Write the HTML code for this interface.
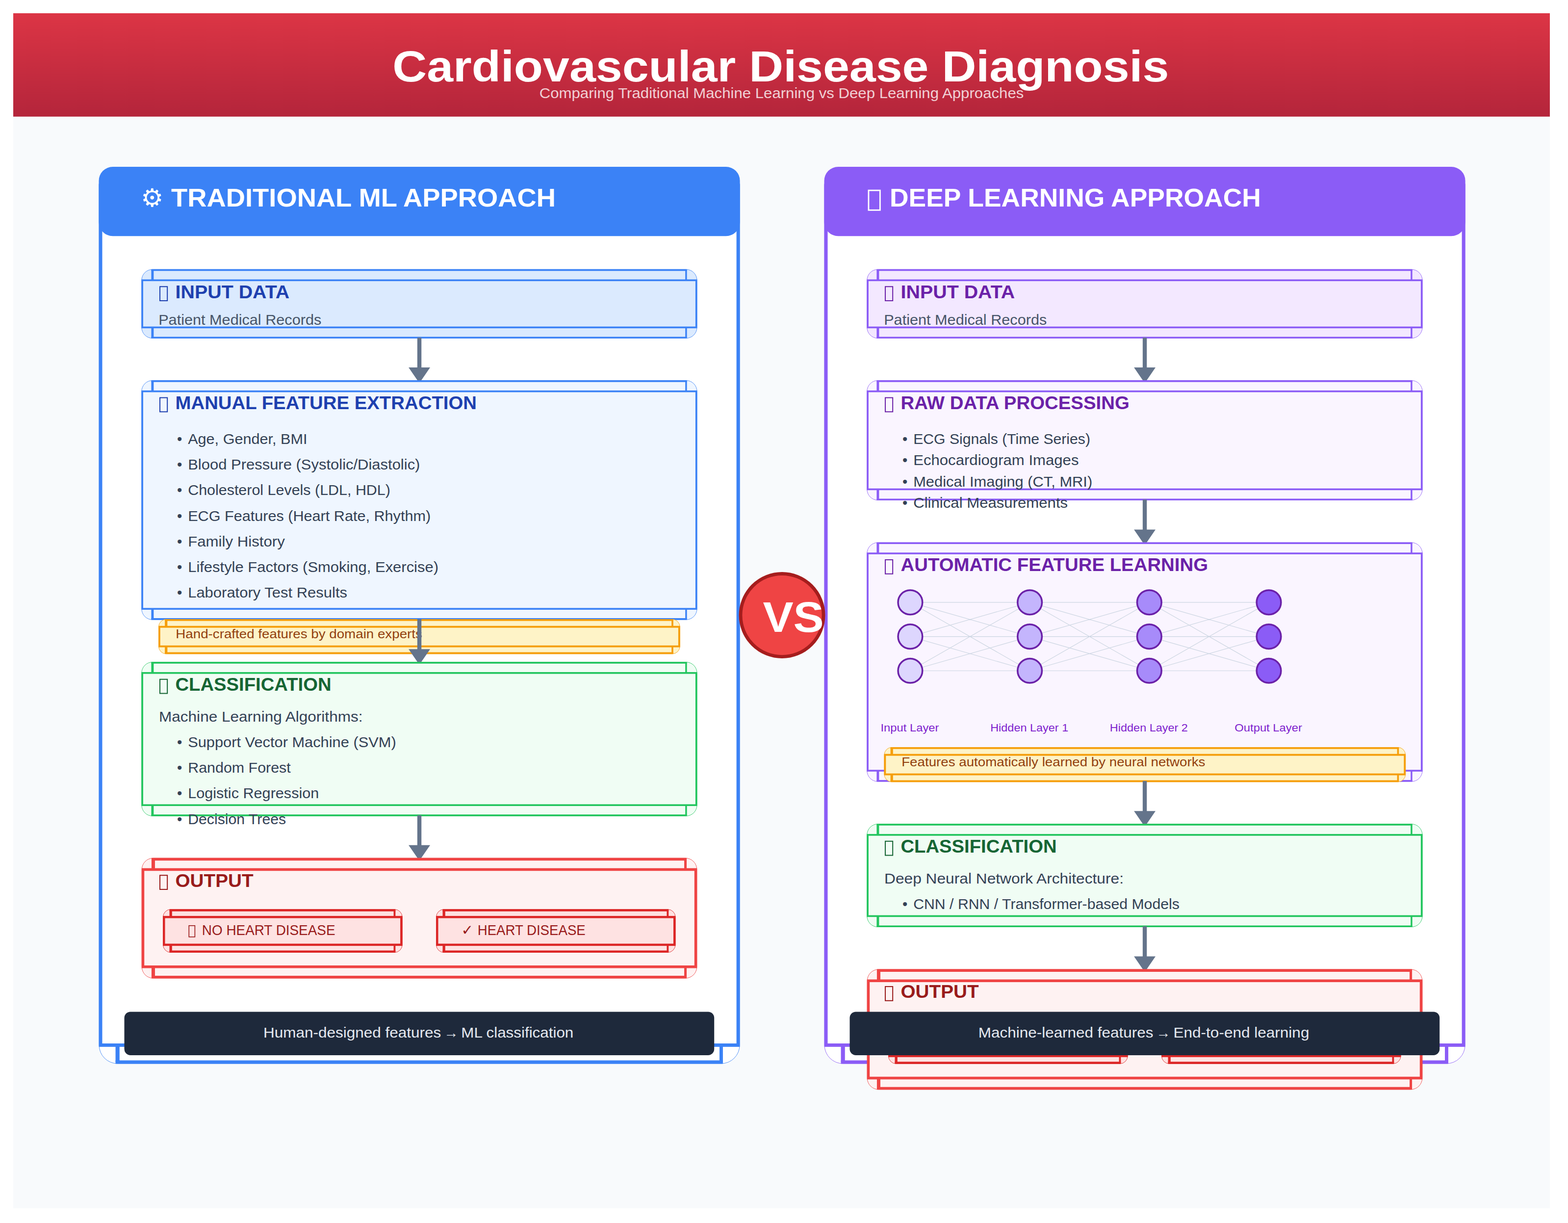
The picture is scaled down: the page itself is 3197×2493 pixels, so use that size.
<!DOCTYPE html>
<html><head><meta charset="utf-8"><title>Cardiovascular Disease Diagnosis</title>
<style>html,body{margin:0;padding:0;background:#fff;}body{width:3197px;height:2493px;overflow:hidden;font-family:"Liberation Sans", sans-serif;}svg text{white-space:pre;}</style></head>
<body>
<svg width="3197" height="2493" viewBox="0 0 3197 2493" font-family='"Liberation Sans", sans-serif' style="display:block">
<defs><linearGradient id="hg" x1="0" y1="0" x2="0" y2="1"><stop offset="0" stop-color="#dc3545"/><stop offset="1" stop-color="#b4253b"/></linearGradient></defs>
<rect x="0" y="0" width="3197" height="2493" fill="#ffffff" />
<rect x="27" y="27" width="3133" height="2436" fill="#f8fafc" />
<rect x="27" y="27" width="3133" height="210.7" fill="url(#hg)" />
<text x="800.22" y="166" font-size="88.04" fill="#ffffff" font-weight="bold" textLength="1583.16" lengthAdjust="spacingAndGlyphs">Cardiovascular Disease Diagnosis</text>
<text x="1099.68" y="200" font-size="29.41" fill="#ffffff" fill-opacity="0.8" textLength="987.65" lengthAdjust="spacingAndGlyphs">Comparing Traditional Machine Learning vs Deep Learning Approaches</text>
<path d="M239.65 340.5H1470.45A37.55 37.55 0 0 1 1508 378.05V2130.45A37.55 37.55 0 0 1 1470.45 2168H239.65A37.55 37.55 0 0 1 202.1 2130.45V378.05A37.55 37.55 0 0 1 239.65 340.5Z" fill="#ffffff" stroke="#3b82f6" stroke-width="1" stroke-opacity="0.85"/>
<path d="M239.65 343.45V378.05M239.65 2130.45V2165.05" stroke="#3b82f6" stroke-width="8.2" fill="none"/>
<path d="M1470.45 343.45V378.05M1470.45 2130.45V2165.05" stroke="#3b82f6" stroke-width="6.9" fill="none"/>
<path d="M235.55 343.45H1473.9M235.55 2165.05H1473.9" stroke="#3b82f6" stroke-width="6.9" fill="none"/>
<rect x="205.05" y="378.05" width="1300" height="1752.4" fill="none" stroke="#3b82f6" stroke-width="6.9"/>
<rect x="201.5" y="340" width="1307.1" height="141.25" rx="28.5" ry="28.5" fill="#3b82f6"/>
<text x="310.34" y="420.75" font-size="51.4" fill="#ffffff" font-weight="bold" text-anchor="middle" font-family='"Liberation Sans", "DejaVu Sans", sans-serif'>⚙</text>
<text x="349.14" y="420.75" font-size="51.4" fill="#ffffff" font-weight="bold" textLength="783.75" lengthAdjust="spacingAndGlyphs">TRADITIONAL ML APPROACH</text>
<path d="M310.9 549.2H1398.9A22.1 22.1 0 0 1 1421 571.3V667.4A22.1 22.1 0 0 1 1398.9 689.5H310.9A22.1 22.1 0 0 1 288.8 667.4V571.3A22.1 22.1 0 0 1 310.9 549.2Z" fill="#dbeafe" stroke="#3b82f6" stroke-width="1" stroke-opacity="0.85"/>
<path d="M310.9 550.5V571.3M310.9 667.4V688.2" stroke="#3b82f6" stroke-width="4.93" fill="none"/>
<path d="M1398.9 550.5V571.3M1398.9 667.4V688.2" stroke="#3b82f6" stroke-width="3.42" fill="none"/>
<path d="M308.43 550.5H1400.61M308.43 688.2H1400.61" stroke="#3b82f6" stroke-width="3.6" fill="none"/>
<rect x="290.1" y="571.3" width="1129.6" height="96.1" fill="none" stroke="#3b82f6" stroke-width="3.6"/>
<rect x="326.02" y="584.25" width="15.14" height="28.74" fill="none" stroke="#1e40af" stroke-width="2.02"/>
<text x="357.49" y="607.6" font-size="36.71" fill="#1e40af" font-weight="bold" textLength="232.78" lengthAdjust="spacingAndGlyphs">INPUT DATA</text>
<text x="323.2" y="661.8" font-size="29.38" fill="#475569" textLength="332.11" lengthAdjust="spacingAndGlyphs">Patient Medical Records</text>
<path d="M850.85 688.3H859.25V749.1H877L855.05 781L833.1 749.1H850.85Z" fill="#64748b"/>
<path d="M310.9 775.6H1398.9A22.1 22.1 0 0 1 1421 797.7V1241.1A22.1 22.1 0 0 1 1398.9 1263.2H310.9A22.1 22.1 0 0 1 288.8 1241.1V797.7A22.1 22.1 0 0 1 310.9 775.6Z" fill="#eff6ff" stroke="#3b82f6" stroke-width="1" stroke-opacity="0.85"/>
<path d="M310.9 776.9V797.7M310.9 1241.1V1261.9" stroke="#3b82f6" stroke-width="4.93" fill="none"/>
<path d="M1398.9 776.9V797.7M1398.9 1241.1V1261.9" stroke="#3b82f6" stroke-width="3.42" fill="none"/>
<path d="M308.43 776.9H1400.61M308.43 1261.9H1400.61" stroke="#3b82f6" stroke-width="3.6" fill="none"/>
<rect x="290.1" y="797.7" width="1129.6" height="443.4" fill="none" stroke="#3b82f6" stroke-width="3.6"/>
<rect x="326.02" y="810.65" width="15.14" height="28.74" fill="none" stroke="#1e40af" stroke-width="2.02"/>
<text x="357.49" y="834" font-size="36.71" fill="#1e40af" font-weight="bold" textLength="614.56" lengthAdjust="spacingAndGlyphs">MANUAL FEATURE EXTRACTION</text>
<text x="366.11" y="905" font-size="29.38" fill="#334155" text-anchor="middle">•</text>
<text x="383.18" y="905" font-size="29.38" fill="#334155" textLength="243.25" lengthAdjust="spacingAndGlyphs">Age, Gender, BMI</text>
<text x="366.11" y="957.17" font-size="29.38" fill="#334155" text-anchor="middle">•</text>
<text x="383.18" y="957.17" font-size="29.38" fill="#334155" textLength="473.26" lengthAdjust="spacingAndGlyphs">Blood Pressure (Systolic/Diastolic)</text>
<text x="366.11" y="1009.34" font-size="29.38" fill="#334155" text-anchor="middle">•</text>
<text x="383.18" y="1009.34" font-size="29.38" fill="#334155" textLength="412.73" lengthAdjust="spacingAndGlyphs">Cholesterol Levels (LDL, HDL)</text>
<text x="366.11" y="1061.51" font-size="29.38" fill="#334155" text-anchor="middle">•</text>
<text x="383.18" y="1061.51" font-size="29.38" fill="#334155" textLength="494.93" lengthAdjust="spacingAndGlyphs">ECG Features (Heart Rate, Rhythm)</text>
<text x="366.11" y="1113.68" font-size="29.38" fill="#334155" text-anchor="middle">•</text>
<text x="383.18" y="1113.68" font-size="29.38" fill="#334155" textLength="197.55" lengthAdjust="spacingAndGlyphs">Family History</text>
<text x="366.11" y="1165.85" font-size="29.38" fill="#334155" text-anchor="middle">•</text>
<text x="383.18" y="1165.85" font-size="29.38" fill="#334155" textLength="510.81" lengthAdjust="spacingAndGlyphs">Lifestyle Factors (Smoking, Exercise)</text>
<text x="366.11" y="1218.02" font-size="29.38" fill="#334155" text-anchor="middle">•</text>
<text x="383.18" y="1218.02" font-size="29.38" fill="#334155" textLength="324.82" lengthAdjust="spacingAndGlyphs">Laboratory Test Results</text>
<path d="M338.7 1262.5H1371A15.2 15.2 0 0 1 1386.2 1277.7V1317.6A15.2 15.2 0 0 1 1371 1332.8H338.7A15.2 15.2 0 0 1 323.5 1317.6V1277.7A15.2 15.2 0 0 1 338.7 1262.5Z" fill="#fef3c7" stroke="#f59e0b" stroke-width="1" stroke-opacity="0.85"/>
<path d="M338.7 1263.9V1277.7M338.7 1317.6V1331.4" stroke="#f59e0b" stroke-width="5.21" fill="none"/>
<path d="M1371 1263.9V1277.7M1371 1317.6V1331.4" stroke="#f59e0b" stroke-width="3.61" fill="none"/>
<path d="M336.1 1263.9H1372.81M336.1 1331.4H1372.81" stroke="#f59e0b" stroke-width="3.8" fill="none"/>
<rect x="324.9" y="1277.7" width="1059.9" height="39.9" fill="none" stroke="#f59e0b" stroke-width="3.8"/>
<text x="358.3" y="1301.4" font-size="25.64" fill="#92400e" textLength="502.59" lengthAdjust="spacingAndGlyphs">Hand-crafted features by domain experts</text>
<path d="M850.85 1262H859.25V1323.2H877L855.05 1355.1L833.1 1323.2H850.85Z" fill="#64748b"/>
<path d="M310.9 1349.7H1398.9A22.1 22.1 0 0 1 1421 1371.8V1641.2A22.1 22.1 0 0 1 1398.9 1663.3H310.9A22.1 22.1 0 0 1 288.8 1641.2V1371.8A22.1 22.1 0 0 1 310.9 1349.7Z" fill="#f0fdf4" stroke="#22c55e" stroke-width="1" stroke-opacity="0.85"/>
<path d="M310.9 1351V1371.8M310.9 1641.2V1662" stroke="#22c55e" stroke-width="4.93" fill="none"/>
<path d="M1398.9 1351V1371.8M1398.9 1641.2V1662" stroke="#22c55e" stroke-width="3.42" fill="none"/>
<path d="M308.43 1351H1400.61M308.43 1662H1400.61" stroke="#22c55e" stroke-width="3.6" fill="none"/>
<rect x="290.1" y="1371.8" width="1129.6" height="269.4" fill="none" stroke="#22c55e" stroke-width="3.6"/>
<rect x="326.02" y="1384.75" width="15.14" height="28.74" fill="none" stroke="#166534" stroke-width="2.02"/>
<text x="357.49" y="1408.1" font-size="36.71" fill="#166534" font-weight="bold" textLength="318.04" lengthAdjust="spacingAndGlyphs">CLASSIFICATION</text>
<text x="324" y="1470.5" font-size="29.38" fill="#334155" textLength="415.48" lengthAdjust="spacingAndGlyphs">Machine Learning Algorithms:</text>
<text x="366.11" y="1523" font-size="29.38" fill="#334155" text-anchor="middle">•</text>
<text x="383.18" y="1523" font-size="29.38" fill="#334155" textLength="424.47" lengthAdjust="spacingAndGlyphs">Support Vector Machine (SVM)</text>
<text x="366.11" y="1575.2" font-size="29.38" fill="#334155" text-anchor="middle">•</text>
<text x="383.18" y="1575.2" font-size="29.38" fill="#334155" textLength="209.62" lengthAdjust="spacingAndGlyphs">Random Forest</text>
<text x="366.11" y="1627.4" font-size="29.38" fill="#334155" text-anchor="middle">•</text>
<text x="383.18" y="1627.4" font-size="29.38" fill="#334155" textLength="267.15" lengthAdjust="spacingAndGlyphs">Logistic Regression</text>
<text x="366.11" y="1679.6" font-size="29.38" fill="#334155" text-anchor="middle">•</text>
<text x="383.18" y="1679.6" font-size="29.38" fill="#334155" textLength="199.96" lengthAdjust="spacingAndGlyphs">Decision Trees</text>
<path d="M850.85 1662.1H859.25V1722.7H877L855.05 1754.6L833.1 1722.7H850.85Z" fill="#64748b"/>
<path d="M312.45 1749.2H1397.55A23.25 23.25 0 0 1 1420.8 1772.45V1970.75A23.25 23.25 0 0 1 1397.55 1994H312.45A23.25 23.25 0 0 1 289.2 1970.75V1772.45A23.25 23.25 0 0 1 312.45 1749.2Z" fill="#fef2f2" stroke="#ef4444" stroke-width="1" stroke-opacity="0.85"/>
<path d="M312.45 1751.45V1772.45M312.45 1970.75V1991.75" stroke="#ef4444" stroke-width="7" fill="none"/>
<path d="M1397.55 1751.45V1772.45M1397.55 1970.75V1991.75" stroke="#ef4444" stroke-width="5" fill="none"/>
<path d="M308.95 1751.45H1400.05M308.95 1991.75H1400.05" stroke="#ef4444" stroke-width="5.5" fill="none"/>
<rect x="291.45" y="1772.45" width="1127.1" height="198.3" fill="none" stroke="#ef4444" stroke-width="5.5"/>
<rect x="326.02" y="1784.25" width="15.14" height="28.74" fill="none" stroke="#991b1b" stroke-width="2.02"/>
<text x="357.49" y="1807.6" font-size="36.71" fill="#991b1b" font-weight="bold" textLength="159.08" lengthAdjust="spacingAndGlyphs">OUTPUT</text>
<path d="M348.15 1853.7H804.45A15.65 15.65 0 0 1 820.1 1869.35V1925.85A15.65 15.65 0 0 1 804.45 1941.5H348.15A15.65 15.65 0 0 1 332.5 1925.85V1869.35A15.65 15.65 0 0 1 348.15 1853.7Z" fill="#fee2e2" stroke="#dc2626" stroke-width="1" stroke-opacity="0.85"/>
<path d="M348.15 1855.45V1869.35M348.15 1925.85V1939.75" stroke="#dc2626" stroke-width="5.3" fill="none"/>
<path d="M804.45 1855.45V1869.35M804.45 1925.85V1939.75" stroke="#dc2626" stroke-width="3.8" fill="none"/>
<path d="M345.5 1855.45H806.35M345.5 1939.75H806.35" stroke="#dc2626" stroke-width="4.5" fill="none"/>
<rect x="334.25" y="1869.35" width="484.1" height="56.5" fill="none" stroke="#dc2626" stroke-width="4.5"/>
<path d="M905.15 1853.7H1361.35A15.65 15.65 0 0 1 1377 1869.35V1925.85A15.65 15.65 0 0 1 1361.35 1941.5H905.15A15.65 15.65 0 0 1 889.5 1925.85V1869.35A15.65 15.65 0 0 1 905.15 1853.7Z" fill="#fee2e2" stroke="#dc2626" stroke-width="1" stroke-opacity="0.85"/>
<path d="M905.15 1855.45V1869.35M905.15 1925.85V1939.75" stroke="#dc2626" stroke-width="5.3" fill="none"/>
<path d="M1361.35 1855.45V1869.35M1361.35 1925.85V1939.75" stroke="#dc2626" stroke-width="3.8" fill="none"/>
<path d="M902.5 1855.45H1363.25M902.5 1939.75H1363.25" stroke="#dc2626" stroke-width="4.5" fill="none"/>
<rect x="891.25" y="1869.35" width="484" height="56.5" fill="none" stroke="#dc2626" stroke-width="4.5"/>
<rect x="385.26" y="1886.81" width="12.11" height="23" fill="none" stroke="#991b1b" stroke-width="1.62"/>
<text x="411.87" y="1905.5" font-size="29.38" fill="#991b1b" textLength="271.65" lengthAdjust="spacingAndGlyphs">NO HEART DISEASE</text>
<text x="952.88" y="1905.5" font-size="29.38" fill="#991b1b" text-anchor="middle" font-family='"Liberation Sans", "DejaVu Sans", sans-serif'>✓</text>
<text x="973.69" y="1905.5" font-size="29.38" fill="#991b1b" textLength="220.04" lengthAdjust="spacingAndGlyphs">HEART DISEASE</text>
<rect x="253.5" y="2062.4" width="1202.7" height="88.5" rx="12.4" ry="12.4" fill="#1e293b"/>
<text x="536.99" y="2114.8" font-size="29.43" fill="#e5e9f0" textLength="362.25" lengthAdjust="spacingAndGlyphs">Human-designed features</text>
<text x="919.92" y="2114.8" font-size="29.43" fill="#e5e9f0" text-anchor="middle" font-family='"Liberation Sans", "DejaVu Sans", sans-serif'>→</text>
<text x="940.36" y="2114.8" font-size="29.43" fill="#e5e9f0" textLength="228.95" lengthAdjust="spacingAndGlyphs">ML classification</text>
<path d="M1718.65 340.5H2949.45A37.55 37.55 0 0 1 2987 378.05V2130.45A37.55 37.55 0 0 1 2949.45 2168H1718.65A37.55 37.55 0 0 1 1681.1 2130.45V378.05A37.55 37.55 0 0 1 1718.65 340.5Z" fill="#ffffff" stroke="#8b5cf6" stroke-width="1" stroke-opacity="0.85"/>
<path d="M1718.65 343.45V378.05M1718.65 2130.45V2165.05" stroke="#8b5cf6" stroke-width="8.2" fill="none"/>
<path d="M2949.45 343.45V378.05M2949.45 2130.45V2165.05" stroke="#8b5cf6" stroke-width="6.9" fill="none"/>
<path d="M1714.55 343.45H2952.9M1714.55 2165.05H2952.9" stroke="#8b5cf6" stroke-width="6.9" fill="none"/>
<rect x="1684.05" y="378.05" width="1300" height="1752.4" fill="none" stroke="#8b5cf6" stroke-width="6.9"/>
<rect x="1680.5" y="340" width="1307.1" height="141.25" rx="28.5" ry="28.5" fill="#8b5cf6"/>
<rect x="1770.95" y="388.06" width="23.39" height="40.24" fill="none" stroke="#ffffff" stroke-width="2.83"/>
<text x="1813.99" y="420.75" font-size="51.4" fill="#ffffff" font-weight="bold" textLength="756.82" lengthAdjust="spacingAndGlyphs">DEEP LEARNING APPROACH</text>
<path d="M1789.9 549.2H2877.9A22.1 22.1 0 0 1 2900 571.3V667.4A22.1 22.1 0 0 1 2877.9 689.5H1789.9A22.1 22.1 0 0 1 1767.8 667.4V571.3A22.1 22.1 0 0 1 1789.9 549.2Z" fill="#f3e8ff" stroke="#8b5cf6" stroke-width="1" stroke-opacity="0.85"/>
<path d="M1789.9 550.5V571.3M1789.9 667.4V688.2" stroke="#8b5cf6" stroke-width="4.93" fill="none"/>
<path d="M2877.9 550.5V571.3M2877.9 667.4V688.2" stroke="#8b5cf6" stroke-width="3.42" fill="none"/>
<path d="M1787.43 550.5H2879.61M1787.43 688.2H2879.61" stroke="#8b5cf6" stroke-width="3.6" fill="none"/>
<rect x="1769.1" y="571.3" width="1129.6" height="96.1" fill="none" stroke="#8b5cf6" stroke-width="3.6"/>
<rect x="1805.02" y="584.25" width="15.14" height="28.74" fill="none" stroke="#6b21a8" stroke-width="2.02"/>
<text x="1836.49" y="607.6" font-size="36.71" fill="#6b21a8" font-weight="bold" textLength="232.78" lengthAdjust="spacingAndGlyphs">INPUT DATA</text>
<text x="1802.2" y="661.8" font-size="29.38" fill="#475569" textLength="332.11" lengthAdjust="spacingAndGlyphs">Patient Medical Records</text>
<path d="M2329.85 688.3H2338.25V749.1H2356L2334.05 781L2312.1 749.1H2329.85Z" fill="#64748b"/>
<path d="M1789.9 775.6H2877.9A22.1 22.1 0 0 1 2900 797.7V997.4A22.1 22.1 0 0 1 2877.9 1019.5H1789.9A22.1 22.1 0 0 1 1767.8 997.4V797.7A22.1 22.1 0 0 1 1789.9 775.6Z" fill="#faf5ff" stroke="#8b5cf6" stroke-width="1" stroke-opacity="0.85"/>
<path d="M1789.9 776.9V797.7M1789.9 997.4V1018.2" stroke="#8b5cf6" stroke-width="4.93" fill="none"/>
<path d="M2877.9 776.9V797.7M2877.9 997.4V1018.2" stroke="#8b5cf6" stroke-width="3.42" fill="none"/>
<path d="M1787.43 776.9H2879.61M1787.43 1018.2H2879.61" stroke="#8b5cf6" stroke-width="3.6" fill="none"/>
<rect x="1769.1" y="797.7" width="1129.6" height="199.7" fill="none" stroke="#8b5cf6" stroke-width="3.6"/>
<rect x="1805.02" y="810.65" width="15.14" height="28.74" fill="none" stroke="#6b21a8" stroke-width="2.02"/>
<text x="1836.49" y="834" font-size="36.71" fill="#6b21a8" font-weight="bold" textLength="466.27" lengthAdjust="spacingAndGlyphs">RAW DATA PROCESSING</text>
<text x="1845.11" y="905" font-size="29.38" fill="#334155" text-anchor="middle">•</text>
<text x="1862.18" y="905" font-size="29.38" fill="#334155" textLength="360.77" lengthAdjust="spacingAndGlyphs">ECG Signals (Time Series)</text>
<text x="1845.11" y="948.45" font-size="29.38" fill="#334155" text-anchor="middle">•</text>
<text x="1862.18" y="948.45" font-size="29.38" fill="#334155" textLength="337.3" lengthAdjust="spacingAndGlyphs">Echocardiogram Images</text>
<text x="1845.11" y="991.9" font-size="29.38" fill="#334155" text-anchor="middle">•</text>
<text x="1862.18" y="991.9" font-size="29.38" fill="#334155" textLength="365.04" lengthAdjust="spacingAndGlyphs">Medical Imaging (CT, MRI)</text>
<text x="1845.11" y="1035.35" font-size="29.38" fill="#334155" text-anchor="middle">•</text>
<text x="1862.18" y="1035.35" font-size="29.38" fill="#334155" textLength="314.99" lengthAdjust="spacingAndGlyphs">Clinical Measurements</text>
<path d="M2329.85 1018.3H2338.25V1079.5H2356L2334.05 1111.4L2312.1 1079.5H2329.85Z" fill="#64748b"/>
<path d="M1789.9 1106H2877.9A22.1 22.1 0 0 1 2900 1128.1V1571A22.1 22.1 0 0 1 2877.9 1593.1H1789.9A22.1 22.1 0 0 1 1767.8 1571V1128.1A22.1 22.1 0 0 1 1789.9 1106Z" fill="#faf5ff" stroke="#8b5cf6" stroke-width="1" stroke-opacity="0.85"/>
<path d="M1789.9 1107.3V1128.1M1789.9 1571V1591.8" stroke="#8b5cf6" stroke-width="4.93" fill="none"/>
<path d="M2877.9 1107.3V1128.1M2877.9 1571V1591.8" stroke="#8b5cf6" stroke-width="3.42" fill="none"/>
<path d="M1787.43 1107.3H2879.61M1787.43 1591.8H2879.61" stroke="#8b5cf6" stroke-width="3.6" fill="none"/>
<rect x="1769.1" y="1128.1" width="1129.6" height="442.9" fill="none" stroke="#8b5cf6" stroke-width="3.6"/>
<rect x="1805.02" y="1141.05" width="15.14" height="28.74" fill="none" stroke="#6b21a8" stroke-width="2.02"/>
<text x="1836.49" y="1164.4" font-size="36.71" fill="#6b21a8" font-weight="bold" textLength="626.54" lengthAdjust="spacingAndGlyphs">AUTOMATIC FEATURE LEARNING</text>
<path d="M1855.9 1227.9L2099.6 1227.9M1855.9 1227.9L2099.6 1297.6M1855.9 1227.9L2099.6 1367.25M1855.9 1297.6L2099.6 1227.9M1855.9 1297.6L2099.6 1297.6M1855.9 1297.6L2099.6 1367.25M1855.9 1367.25L2099.6 1227.9M1855.9 1367.25L2099.6 1297.6M1855.9 1367.25L2099.6 1367.25M2099.6 1227.9L2343.3 1227.9M2099.6 1227.9L2343.3 1297.6M2099.6 1227.9L2343.3 1367.25M2099.6 1297.6L2343.3 1227.9M2099.6 1297.6L2343.3 1297.6M2099.6 1297.6L2343.3 1367.25M2099.6 1367.25L2343.3 1227.9M2099.6 1367.25L2343.3 1297.6M2099.6 1367.25L2343.3 1367.25M2343.3 1227.9L2587.0 1227.9M2343.3 1227.9L2587.0 1297.6M2343.3 1227.9L2587.0 1367.25M2343.3 1297.6L2587.0 1227.9M2343.3 1297.6L2587.0 1297.6M2343.3 1297.6L2587.0 1367.25M2343.3 1367.25L2587.0 1227.9M2343.3 1367.25L2587.0 1297.6M2343.3 1367.25L2587.0 1367.25" stroke="#cbd5e1" stroke-width="1.15" fill="none"/>
<circle cx="1855.9" cy="1227.9" r="24.85" fill="#ddd6fe" stroke="#6b21a8" stroke-width="3.5"/>
<circle cx="1855.9" cy="1297.6" r="24.85" fill="#ddd6fe" stroke="#6b21a8" stroke-width="3.5"/>
<circle cx="1855.9" cy="1367.25" r="24.85" fill="#ddd6fe" stroke="#6b21a8" stroke-width="3.5"/>
<circle cx="2099.6" cy="1227.9" r="24.85" fill="#c4b5fd" stroke="#6b21a8" stroke-width="3.5"/>
<circle cx="2099.6" cy="1297.6" r="24.85" fill="#c4b5fd" stroke="#6b21a8" stroke-width="3.5"/>
<circle cx="2099.6" cy="1367.25" r="24.85" fill="#c4b5fd" stroke="#6b21a8" stroke-width="3.5"/>
<circle cx="2343.3" cy="1227.9" r="24.85" fill="#a78bfa" stroke="#6b21a8" stroke-width="3.5"/>
<circle cx="2343.3" cy="1297.6" r="24.85" fill="#a78bfa" stroke="#6b21a8" stroke-width="3.5"/>
<circle cx="2343.3" cy="1367.25" r="24.85" fill="#a78bfa" stroke="#6b21a8" stroke-width="3.5"/>
<circle cx="2587.0" cy="1227.9" r="24.85" fill="#8b5cf6" stroke="#6b21a8" stroke-width="3.5"/>
<circle cx="2587.0" cy="1297.6" r="24.85" fill="#8b5cf6" stroke="#6b21a8" stroke-width="3.5"/>
<circle cx="2587.0" cy="1367.25" r="24.85" fill="#8b5cf6" stroke="#6b21a8" stroke-width="3.5"/>
<text x="1795.48" y="1491.2" font-size="22.05" fill="#7e22ce" textLength="119.03" lengthAdjust="spacingAndGlyphs">Input Layer</text>
<text x="2019.19" y="1491.2" font-size="22.05" fill="#7e22ce" textLength="159.02" lengthAdjust="spacingAndGlyphs">Hidden Layer 1</text>
<text x="2262.89" y="1491.2" font-size="22.05" fill="#7e22ce" textLength="159.02" lengthAdjust="spacingAndGlyphs">Hidden Layer 2</text>
<text x="2517.34" y="1491.2" font-size="22.05" fill="#7e22ce" textLength="137.51" lengthAdjust="spacingAndGlyphs">Output Layer</text>
<path d="M1818.2 1523.5H2850.4A15.2 15.2 0 0 1 2865.6 1538.7V1578.5A15.2 15.2 0 0 1 2850.4 1593.7H1818.2A15.2 15.2 0 0 1 1803 1578.5V1538.7A15.2 15.2 0 0 1 1818.2 1523.5Z" fill="#fef3c7" stroke="#f59e0b" stroke-width="1" stroke-opacity="0.85"/>
<path d="M1818.2 1524.9V1538.7M1818.2 1578.5V1592.3" stroke="#f59e0b" stroke-width="5.21" fill="none"/>
<path d="M2850.4 1524.9V1538.7M2850.4 1578.5V1592.3" stroke="#f59e0b" stroke-width="3.61" fill="none"/>
<path d="M1815.6 1524.9H2852.2M1815.6 1592.3H2852.2" stroke="#f59e0b" stroke-width="3.8" fill="none"/>
<rect x="1804.4" y="1538.7" width="1059.8" height="39.8" fill="none" stroke="#f59e0b" stroke-width="3.8"/>
<text x="1838.2" y="1562.4" font-size="25.64" fill="#92400e" textLength="619.24" lengthAdjust="spacingAndGlyphs">Features automatically learned by neural networks</text>
<path d="M2329.85 1591.9H2338.25V1653.25H2356L2334.05 1685.15L2312.1 1653.25H2329.85Z" fill="#64748b"/>
<path d="M1789.9 1679.75H2877.9A22.1 22.1 0 0 1 2900 1701.85V1867.4A22.1 22.1 0 0 1 2877.9 1889.5H1789.9A22.1 22.1 0 0 1 1767.8 1867.4V1701.85A22.1 22.1 0 0 1 1789.9 1679.75Z" fill="#f0fdf4" stroke="#22c55e" stroke-width="1" stroke-opacity="0.85"/>
<path d="M1789.9 1681.05V1701.85M1789.9 1867.4V1888.2" stroke="#22c55e" stroke-width="4.93" fill="none"/>
<path d="M2877.9 1681.05V1701.85M2877.9 1867.4V1888.2" stroke="#22c55e" stroke-width="3.42" fill="none"/>
<path d="M1787.43 1681.05H2879.61M1787.43 1888.2H2879.61" stroke="#22c55e" stroke-width="3.6" fill="none"/>
<rect x="1769.1" y="1701.85" width="1129.6" height="165.55" fill="none" stroke="#22c55e" stroke-width="3.6"/>
<rect x="1805.02" y="1714.8" width="15.14" height="28.74" fill="none" stroke="#166534" stroke-width="2.02"/>
<text x="1836.49" y="1738.15" font-size="36.71" fill="#166534" font-weight="bold" textLength="318.04" lengthAdjust="spacingAndGlyphs">CLASSIFICATION</text>
<text x="1803" y="1801.3" font-size="29.38" fill="#334155" textLength="487.99" lengthAdjust="spacingAndGlyphs">Deep Neural Network Architecture:</text>
<text x="1845.11" y="1853.3" font-size="29.38" fill="#334155" text-anchor="middle">•</text>
<text x="1862.18" y="1853.3" font-size="29.38" fill="#334155" textLength="542.74" lengthAdjust="spacingAndGlyphs">CNN / RNN / Transformer-based Models</text>
<path d="M2329.85 1888.3H2338.25V1949.5H2356L2334.05 1981.4L2312.1 1949.5H2329.85Z" fill="#64748b"/>
<path d="M1791.45 1976H2876.55A23.25 23.25 0 0 1 2899.8 1999.25V2197.55A23.25 23.25 0 0 1 2876.55 2220.8H1791.45A23.25 23.25 0 0 1 1768.2 2197.55V1999.25A23.25 23.25 0 0 1 1791.45 1976Z" fill="#fef2f2" stroke="#ef4444" stroke-width="1" stroke-opacity="0.85"/>
<path d="M1791.45 1978.25V1999.25M1791.45 2197.55V2218.55" stroke="#ef4444" stroke-width="7" fill="none"/>
<path d="M2876.55 1978.25V1999.25M2876.55 2197.55V2218.55" stroke="#ef4444" stroke-width="5" fill="none"/>
<path d="M1787.95 1978.25H2879.05M1787.95 2218.55H2879.05" stroke="#ef4444" stroke-width="5.5" fill="none"/>
<rect x="1770.45" y="1999.25" width="1127.1" height="198.3" fill="none" stroke="#ef4444" stroke-width="5.5"/>
<rect x="1805.02" y="2011.05" width="15.14" height="28.74" fill="none" stroke="#991b1b" stroke-width="2.02"/>
<text x="1836.49" y="2034.4" font-size="36.71" fill="#991b1b" font-weight="bold" textLength="159.08" lengthAdjust="spacingAndGlyphs">OUTPUT</text>
<path d="M1827.15 2080.5H2283.45A15.65 15.65 0 0 1 2299.1 2096.15V2152.65A15.65 15.65 0 0 1 2283.45 2168.3H1827.15A15.65 15.65 0 0 1 1811.5 2152.65V2096.15A15.65 15.65 0 0 1 1827.15 2080.5Z" fill="#fee2e2" stroke="#dc2626" stroke-width="1" stroke-opacity="0.85"/>
<path d="M1827.15 2082.25V2096.15M1827.15 2152.65V2166.55" stroke="#dc2626" stroke-width="5.3" fill="none"/>
<path d="M2283.45 2082.25V2096.15M2283.45 2152.65V2166.55" stroke="#dc2626" stroke-width="3.8" fill="none"/>
<path d="M1824.5 2082.25H2285.35M1824.5 2166.55H2285.35" stroke="#dc2626" stroke-width="4.5" fill="none"/>
<rect x="1813.25" y="2096.15" width="484.1" height="56.5" fill="none" stroke="#dc2626" stroke-width="4.5"/>
<path d="M2384.15 2080.5H2840.35A15.65 15.65 0 0 1 2856 2096.15V2152.65A15.65 15.65 0 0 1 2840.35 2168.3H2384.15A15.65 15.65 0 0 1 2368.5 2152.65V2096.15A15.65 15.65 0 0 1 2384.15 2080.5Z" fill="#fee2e2" stroke="#dc2626" stroke-width="1" stroke-opacity="0.85"/>
<path d="M2384.15 2082.25V2096.15M2384.15 2152.65V2166.55" stroke="#dc2626" stroke-width="5.3" fill="none"/>
<path d="M2840.35 2082.25V2096.15M2840.35 2152.65V2166.55" stroke="#dc2626" stroke-width="3.8" fill="none"/>
<path d="M2381.5 2082.25H2842.25M2381.5 2166.55H2842.25" stroke="#dc2626" stroke-width="4.5" fill="none"/>
<rect x="2370.25" y="2096.15" width="484" height="56.5" fill="none" stroke="#dc2626" stroke-width="4.5"/>
<rect x="1864.26" y="2113.61" width="12.11" height="23" fill="none" stroke="#991b1b" stroke-width="1.62"/>
<text x="1890.87" y="2132.3" font-size="29.38" fill="#991b1b" textLength="271.65" lengthAdjust="spacingAndGlyphs">NO HEART DISEASE</text>
<text x="2431.88" y="2132.3" font-size="29.38" fill="#991b1b" text-anchor="middle" font-family='"Liberation Sans", "DejaVu Sans", sans-serif'>✓</text>
<text x="2452.69" y="2132.3" font-size="29.38" fill="#991b1b" textLength="220.04" lengthAdjust="spacingAndGlyphs">HEART DISEASE</text>
<rect x="1732.5" y="2062.4" width="1202.7" height="88.5" rx="12.4" ry="12.4" fill="#1e293b"/>
<text x="1994.85" y="2114.8" font-size="29.43" fill="#e5e9f0" textLength="356.54" lengthAdjust="spacingAndGlyphs">Machine-learned features</text>
<text x="2372.07" y="2114.8" font-size="29.43" fill="#e5e9f0" text-anchor="middle" font-family='"Liberation Sans", "DejaVu Sans", sans-serif'>→</text>
<text x="2392.51" y="2114.8" font-size="29.43" fill="#e5e9f0" textLength="276.93" lengthAdjust="spacingAndGlyphs">End-to-end learning</text>
<circle cx="1594.55" cy="1254.05" r="84.55" fill="#ef4444" stroke="#a51d1d" stroke-width="6.8"/>
<text x="1555.4" y="1288.1" font-size="87.88" fill="#ffffff" font-weight="bold" textLength="124.46" lengthAdjust="spacingAndGlyphs">VS</text>
</svg>
</body></html>
